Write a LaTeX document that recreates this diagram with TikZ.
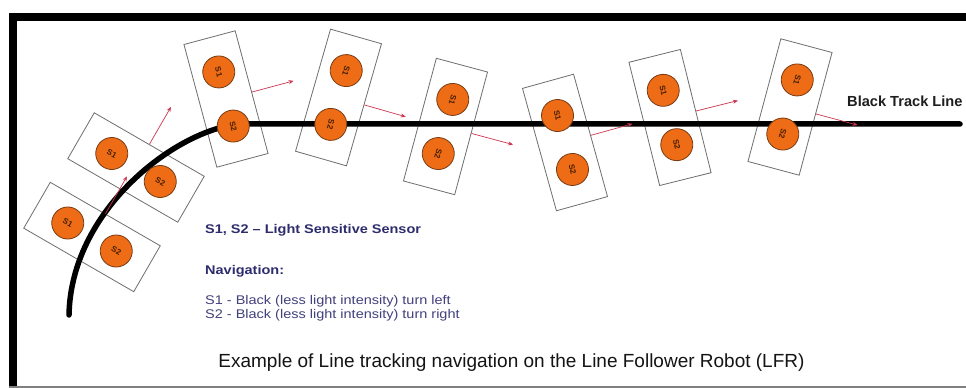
\documentclass[tikz,border=0pt]{standalone}
\usepackage{fontspec}
\setmainfont{Liberation Sans}
\newfontfamily\legfont[FakeStretch=1.15]{Liberation Sans}
\usetikzlibrary{arrows.meta}
\pgfdeclarelayer{back}
\pgfsetlayers{back,main}
\definecolor{sensorfill}{RGB}{238,108,22}
\definecolor{sensorline}{RGB}{120,60,20}
\definecolor{boxline}{RGB}{110,110,110}
\definecolor{arrowred}{RGB}{205,55,80}
\definecolor{navyb}{RGB}{45,45,110}
\definecolor{navyr}{RGB}{65,65,125}
\tikzset{
  robotbox/.style={draw=boxline,line width=0.8pt,minimum width=127pt,minimum height=53pt,inner sep=0pt},
  sensor/.style={circle,draw=sensorline,line width=0.8pt,fill=sensorfill,minimum size=32pt,inner sep=0pt,
     font=\fontsize{8}{9}\selectfont\bfseries,text={rgb,255:red,70;green,30;blue,0}},
  move/.style={draw=arrowred,line width=0.7pt,-{Stealth[length=5pt,width=4pt]}},
  track/.style={line width=5.5pt,line cap=round,black},
  legbold/.style={anchor=base west,inner sep=0pt,text=navyb,font=\legfont\bfseries\fontsize{12.6}{14}\selectfont},
  legreg/.style={anchor=base west,inner sep=0pt,text=navyr,font=\legfont\fontsize{12.6}{14}\selectfont},
}
\newcommand{\robot}[4]{%
  \begin{pgfonlayer}{back}
    \begin{scope}[shift={(#2,#3)},rotate=#4,transform shape]
      \node[robotbox] (#1) at (0,0) {};
    \end{scope}
  \end{pgfonlayer}
  \begin{scope}[shift={(#2,#3)},rotate=#4,transform shape]
    \node[sensor] (#1a) at (-28,0) {S1};
    \node[sensor] (#1b) at (28,0) {S2};
    \coordinate (#1e) at (0,70);
    \draw[move] (#1.north) -- (#1e);
  \end{scope}}
\begin{document}
\begin{tikzpicture}[x=1pt,y=1pt]
\useasboundingbox (0,0) rectangle (966,388);
\begin{pgfonlayer}{back}
\fill[white] (0,0) rectangle (966,388);
\end{pgfonlayer}
% frame
\fill[black] (9,367) rectangle (966,375);
\fill[black] (9,0) rectangle (17,375);
\draw[gray,line width=1.5pt] (9,0.75) -- (966,0.75);
% track
\coordinate (t0) at (69,73);
\coordinate (t1) at (245,264);
\coordinate (t2) at (960,264);
\draw[track] (t0) .. controls (71,183) and (185,264) .. (t1) -- (t2);
% robots
\robot{ra}{92}{151}{-30}
\robot{rb}{136}{220.5}{-30}
\robot{rc}{226}{289}{-75}
\robot{rd}{338.5}{290.5}{-106}
\robot{re}{445.5}{261.5}{-105}
\robot{rf}{565}{245.5}{-74.5}
\robot{rg}{670}{270.5}{-76}
\robot{rh}{790}{281}{-105}
% labels
\node[anchor=west,inner sep=0pt,text={rgb,255:red,30;green,30;blue,30},font=\bfseries\fontsize{14.6}{16}\selectfont] (trk) at (847,287) {Black Track Line};
\node[legbold] (l1) at (205,154) {S1, S2 – Light Sensitive Sensor};
\node[legbold] (l2) at (205,113) {Navigation:};
\node[legreg] (l3) at (205,83) {S1 - Black (less light intensity) turn left};
\node[legreg] (l4) at (205,69.7) {S2 - Black (less light intensity) turn right};
\node[inner sep=0pt,text={rgb,255:red,20;green,20;blue,20},font=\fontsize{19}{21}\selectfont] (cap) at (511.5,25) {Example of Line tracking navigation on the Line Follower Robot (LFR)};
\end{tikzpicture}
\end{document}
